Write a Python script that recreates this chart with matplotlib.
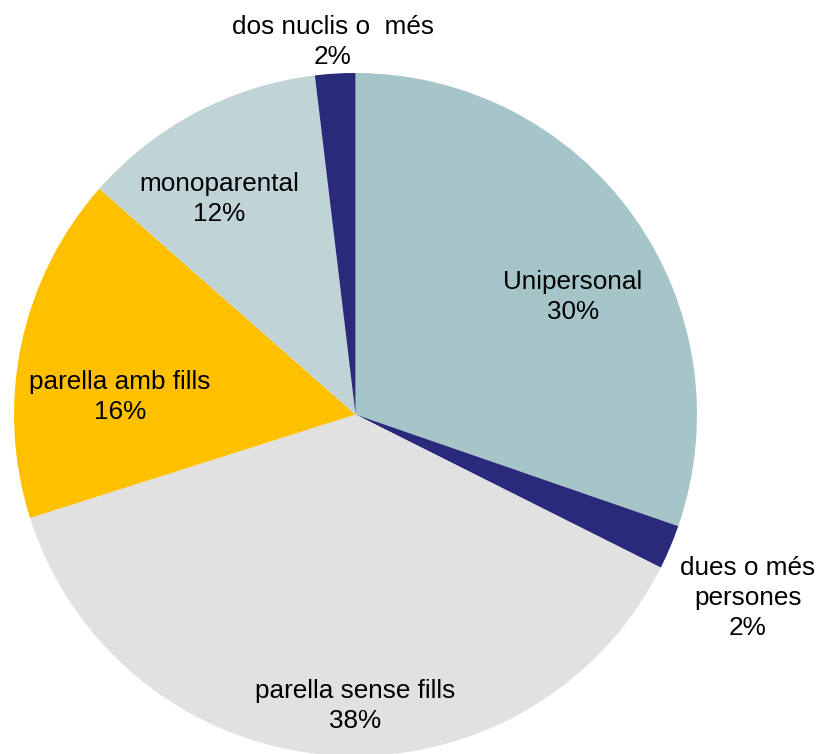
import matplotlib
matplotlib.use("Agg")
import matplotlib.pyplot as plt

# slices, clockwise from 12 o'clock
categories = ["Unipersonal", "dues o més\npersones", "parella sense fills",
              "parella amb fills", "monoparental", "dos nuclis o  més"]
shares = [30.3, 2.1, 37.7, 16.4, 11.6, 1.9]
pct_labels = ["30%", "2%", "38%", "16%", "12%", "2%"]
colors = ["#A5C5C9", "#2A2A7B", "#E1E1E1", "#FFC000", "#C0D3D7", "#2A2A7B"]

# label centres in pixels of the 820x754 picture (layout only)
label_px = [(573, 297), (748, 598), (355, 706), (120, 397), (219, 199), (333, 42)]

plt.rcParams["font.family"] = ["Liberation Sans", "DejaVu Sans"]

W, H = 820, 754
cx, cy, r = 355.5, 414.5, 341.5

fig = plt.figure(figsize=(W / 100, H / 100), dpi=100)
ax = fig.add_axes([0, 0, 1, 1])
ax.pie(shares, colors=colors, startangle=90, counterclock=False, radius=1,
       wedgeprops=dict(linewidth=0))
ax.set_xlim(-cx / r, (W - cx) / r)
ax.set_ylim(-(H - cy) / r, cy / r)
ax.set_aspect("equal")
ax.axis("off")

for name, pct, (px, py) in zip(categories, pct_labels, label_px):
    ax.text((px - cx) / r, (cy - py) / r, f"{name}\n{pct}", ha="center", va="center",
            multialignment="center", fontsize=18.8, linespacing=1.3, color="#000000")

fig.savefig("out.png", dpi=100)
